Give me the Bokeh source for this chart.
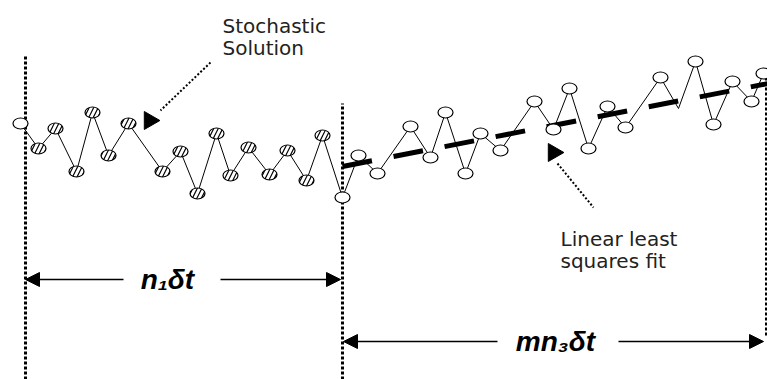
from bokeh.plotting import figure
from bokeh.models import Range1d, Arrow, NormalHead
from bokeh.core.properties import value
from bokeh.embed import file_html
from bokeh.resources import INLINE

# ---- data (time, stochastic solution) ----
time = [2.0, 3.8, 5.5, 7.6, 9.2, 10.8, 12.8, 16.2, 18.0, 19.7, 21.6, 23.0, 24.8, 26.9, 28.7, 30.6, 32.2, 34.2,
        35.8, 37.7, 41.0, 43.0, 44.5, 46.5, 48.0, 50.0, 53.4, 55.3, 56.9, 58.8, 60.7, 62.5, 66.0, 67.8,
        69.5, 71.3, 73.2, 75.1, 76.3]
solution = [12.7, 10.2, 12.2, 7.9, 13.8, 9.5, 12.7, 7.9, 9.9, 5.7, 11.7, 7.5, 10.3, 7.6, 10.0, 7.0, 11.5, 5.3,
            9.5, 7.7, 12.4, 9.3, 13.8, 7.7, 11.7, 10.0, 14.9, 12.1, 16.2, 10.2, 14.4, 12.3, 17.3, 14.2,
            18.9, 12.6, 16.9, 14.9, 17.7]
unmarked_time = [67.8]

# window boundaries (start of n1 window, end of n1 window, end of m*n3 window)
window_bounds = [2.5, 34.2, 76.6]
window_tops = [19.4, 14.7, 18.0]
window_bottoms = [-12.9, -12.9, -8.5]

# linear least squares fit over the second window
fit_t0 = 34.2
fit_intercept = 8.4
fit_slope = 0.195
fit_t1 = 76.7

labels_stoch = ["Stochastic", "Solution"]
labels_fit = ["Linear least", "squares fit"]
label_n1 = "n\u2081\u03b4t"
label_mn3 = "mn\u2083\u03b4t"

p = figure(width=767, height=379, output_backend="svg", toolbar_location=None,
           x_range=Range1d(0.0, 76.7), y_range=Range1d(-12.9, 25.0),
           min_border=0, outline_line_color=None, background_fill_color="white")
p.axis.visible = False
p.grid.visible = False

# vertical dotted window boundaries
p.segment(x0=window_bounds, y0=window_bottoms, x1=window_bounds, y1=window_tops,
          line_color="black", line_width=3, line_dash="3 2")

# linear fit
fx = [fit_t0, fit_t1]
fy = [fit_intercept + fit_slope * (t - fit_t0) for t in fx]
p.line(fx, fy, line_color="black", line_width=5, line_dash="30 22")

# stochastic solution line
p.line(time, solution, line_color="black", line_width=1)

mx, my, hx, hy = [], [], [], []
for t, s in zip(time, solution):
    if t in unmarked_time:
        continue
    if window_bounds[0] < t < window_bounds[1]:
        hx.append(t); hy.append(s)
    else:
        mx.append(t); my.append(s)
p.ellipse(mx, my, width=15, height=11, width_units="screen", height_units="screen",
          fill_color="white", line_color="black", line_width=1.2)
p.ellipse(hx, hy, width=15, height=11, width_units="screen", height_units="screen",
          fill_color="white", line_color="black", line_width=1.2,
          hatch_pattern="/", hatch_scale=9, hatch_color="black", hatch_weight=1.2)

# leader lines with arrowheads
p.line([21.0, 16.0], [18.8, 14.0], line_color="black", line_width=2, line_dash="2 2")
p.line([55.7, 59.3], [8.7, 4.3], line_color="black", line_width=2, line_dash="2 2")
p.scatter([14.9, 55.3], [13.0, 9.8], marker="triangle", size=18, angle=-1.5708,
          fill_color="black", line_color="black")

# text labels
p.text(x=[22.2, 22.2], y=[22.5, 20.3], text=labels_stoch, text_font=value("DejaVu Sans"),
       text_font_size="20px", text_align="left", text_baseline="alphabetic", text_color="#222222")
p.text(x=[56.0, 56.0], y=[1.2, -1.0], text=labels_fit, text_font=value("DejaVu Sans"),
       text_font_size="20px", text_align="left", text_baseline="alphabetic", text_color="#222222")

p.text(x=[16.7], y=[-2.9], text=[label_n1], text_font=value("Liberation Sans"),
       text_font_style="bold italic", text_font_size="28px", text_align="center",
       text_baseline="middle", text_color="black")
p.text(x=[55.5], y=[-9.1], text=[label_mn3], text_font=value("Liberation Sans"),
       text_font_style="bold italic", text_font_size="28px", text_align="center",
       text_baseline="middle", text_color="black")

# dimension arrows
def dim_arrow(x0, x1, y):
    p.add_layout(Arrow(end=NormalHead(size=14, fill_color="black", line_color="black"),
                       x_start=x0, y_start=y, x_end=x1, y_end=y,
                       line_color="black", line_width=1.5))

dim_arrow(12.3, 2.5, -2.9)
dim_arrow(22.0, 34.0, -2.9)
dim_arrow(49.7, 34.3, -9.1)
dim_arrow(61.8, 76.3, -9.1)

open("out.html", "w").write(file_html(p, INLINE))
